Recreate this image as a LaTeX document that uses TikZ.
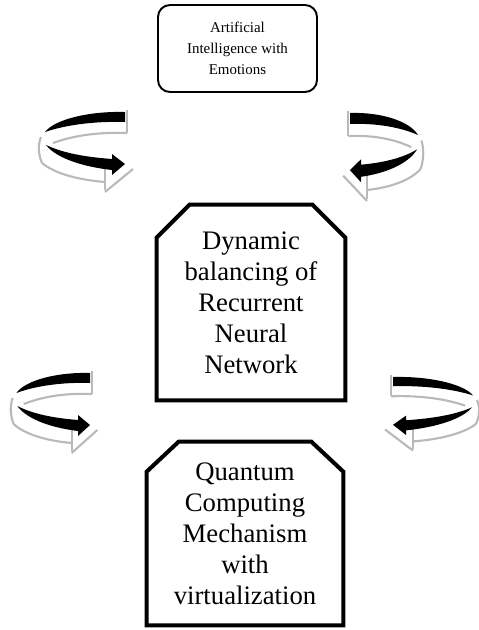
\documentclass[tikz,border=0pt]{standalone}
\usepackage{fontspec}
\setmainfont{Liberation Serif}
\usetikzlibrary{calc}
\tikzset{
  swirl/.pic={
    % grey ribbon behind the arrow
    \draw [ribbon] (2,-2) -- (2,21);
    \draw [ribbon] (-72,31) .. controls (-50,23) and (-25,20) .. (2,21);
    \draw [ribbon] (-84,25) .. controls (-87,32) and (-87,42) .. (-83,51);
    \draw [ribbon] (-83,51) .. controls (-70,62) and (-45,68) .. (-20,70);
    \draw [ribbon] (-20,55) -- (-20,78);
    \draw [ribbon] (8,57) -- (-20,80);
    % black arrow
    \fill [black] (0,0) .. controls (-35,-1) and (-70,7) .. (-80,20) .. controls (-60,13) and (-30,9) .. (0,10) -- cycle;
    \fill [black] (-79,33) .. controls (-68,47) and (-40,55) .. (-13,58) -- (-13,63) -- (0,52) -- (-13,42) -- (-13,47) .. controls (-40,45) and (-62,41) .. (-79,33) -- cycle;
  }
}
\begin{document}
\begin{tikzpicture}[x=0.02cm,y=-0.02cm]
    \tikzstyle{every node}+=[inner sep=0pt]
    \tikzstyle{ribbon}=[draw=gray!55,line width=1.2pt]
    \tikzstyle{roundbox}=[draw,line width=1.1pt,rounded corners=6.8pt,minimum width=3.18cm,minimum height=1.74cm,align=center,font=\fontsize{8.5}{11.8}\selectfont]
    \tikzstyle{bigtext}=[align=center,font=\fontsize{15.2}{17.6}\selectfont]
    \tikzstyle{octline}=[draw,line width=2.3pt,line join=miter]
    \useasboundingbox (0,0) rectangle (478,630);
    \node [roundbox] (aie) at (237.5,48.5) {Artificial\\Intelligence with\\Emotions};
    \node [bigtext,minimum width=3.76cm,minimum height=3.9cm] (dbrnn) at (251,302.5) {Dynamic\\balancing of\\Recurrent\\Neural\\Network};
    \draw [octline] (dbrnn.south west) -- ($(dbrnn.north west)+(0,33)$) -- ($(dbrnn.north west)+(33,0)$) -- ($(dbrnn.north east)+(-33,0)$) -- ($(dbrnn.north east)+(0,33)$) -- (dbrnn.south east) -- cycle;
    \node [bigtext,minimum width=3.92cm,minimum height=3.66cm] (qcm) at (245,533.5) {Quantum\\Computing\\Mechanism\\with\\virtualization};
    \draw [octline] (qcm.south west) -- ($(qcm.north west)+(0,30)$) -- ($(qcm.north west)+(32,0)$) -- ($(qcm.north east)+(-32,0)$) -- ($(qcm.north east)+(0,30)$) -- (qcm.south east) -- cycle;
    \pic at (125,112) {swirl};
    \pic [xscale=-0.85,yscale=1.1] at (350,113) {swirl};
    \pic [xscale=0.92] at (90,373) {swirl};
    \pic [xscale=-1,yscale=0.92] at (393,377) {swirl};
\end{tikzpicture}
\end{document}
